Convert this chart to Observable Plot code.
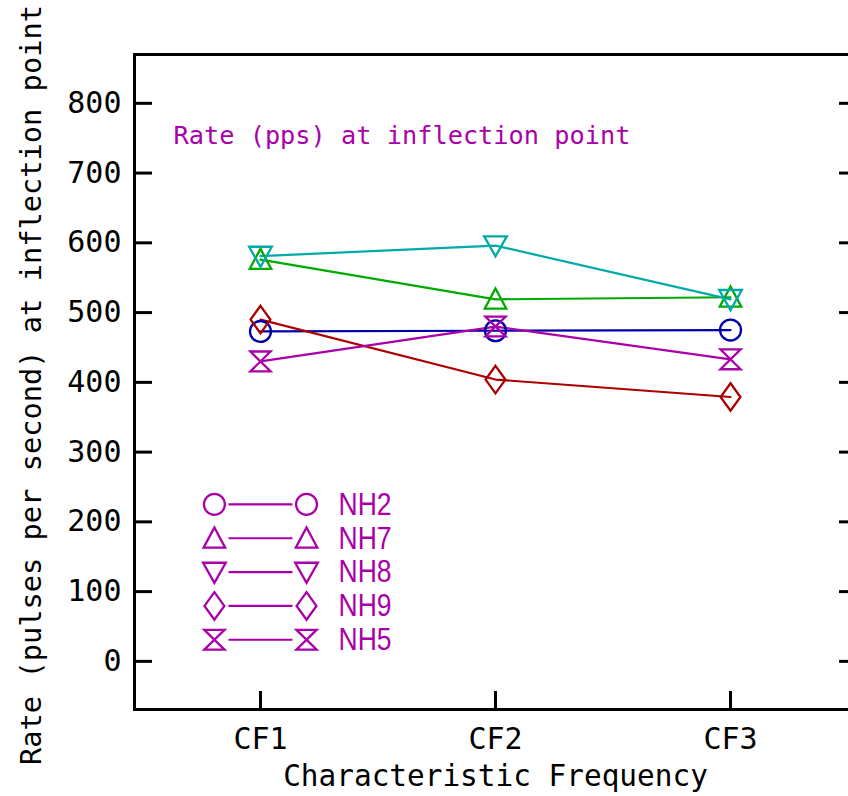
<!DOCTYPE html>
<html>
<head>
<meta charset="utf-8">
<script src="https://cdn.jsdelivr.net/npm/d3@7"></script>
<script src="https://cdn.jsdelivr.net/npm/@observablehq/plot@0.6"></script>
<style>
  html, body { margin: 0; padding: 0; background: #fff; }
  #wrap { width: 848px; height: 796px; overflow: hidden; }
  #wrap svg { max-width: none !important; }
</style>
</head>
<body>
<div id="wrap"></div>
<script>
// ---- data ----
const categories = ["CF1", "CF2", "CF3"];
const seriesNames = ["NH2", "NH7", "NH8", "NH9", "NH5"];
const seriesColors = ["#0000aa", "#00aa00", "#00aaaa", "#aa0000", "#aa00aa"];
const nh2 = [473, 474, 475];
const nh7 = [576, 519, 522];
const nh8 = [581, 596, 519];
const nh9 = [490, 404, 379];
const nh5 = [430, 480, 433];
const yTicks = [0, 100, 200, 300, 400, 500, 600, 700, 800];
const yLabel = "Rate (pulses per second) at inflection point";
const xLabel = "Characteristic Frequency";
const annotation = "Rate (pps) at inflection point";
const legendColor = "#aa00aa";

// ---- build table ----
const seriesValues = [nh2, nh7, nh8, nh9, nh5];
const data = [];
seriesNames.forEach((name, s) => {
  seriesValues[s].forEach((v, i) => data.push({series: name, x: i + 1, y: v}));
});

// legend rows (layout in data units, inside the frame)
const legend = seriesNames.map((name, i) => ({series: name, y: 225 - i * 48.5}));
const legendX = {sym1: 0.804, lineStart: 0.864, lineEnd: 1.136, sym2: 1.196, text: 1.332};
const annotationPos = {x: 0.63, y: 753};

// ---- custom symbols ----
function poly(pts) {
  return {
    draw(ctx, size) {
      const r = Math.sqrt(size / Math.PI);
      ctx.moveTo(pts[0][0] * r, pts[0][1] * r);
      for (let k = 1; k < pts.length; k++) ctx.lineTo(pts[k][0] * r, pts[k][1] * r);
      ctx.closePath();
    }
  };
}
const symCircle = {
  draw(ctx, size) {
    const r = Math.sqrt(size / Math.PI) * 0.95;
    ctx.moveTo(r, 0);
    ctx.arc(0, 0, r, 0, 2 * Math.PI);
    ctx.closePath();
  }
};
const symUp = poly([[0, -0.98], [0.98, 0.85], [-0.98, 0.85]]);
const symDown = poly([[-1.03, -0.85], [1.03, -0.85], [0, 0.98]]);
const symDiamond = poly([[0, -1.25], [0.9, 0], [0, 1.25], [-0.9, 0]]);
const symHourglass = poly([[-0.92, -0.9], [0.92, -0.9], [-0.92, 0.9], [0.92, 0.9]]);

const chart = Plot.plot({
  width: 856,
  height: 796,
  marginLeft: 134,
  marginRight: 0,
  marginTop: 54,
  marginBottom: 87,
  style: {fontFamily: "'DejaVu Sans Mono', monospace", fontSize: "30px", color: "black", background: "white", maxWidth: "none"},
  x: {domain: [0.464, 3.536]},
  y: {domain: [-69, 870]},
  color: {domain: seriesNames, range: seriesColors},
  symbol: {domain: seriesNames, range: [symCircle, symUp, symDown, symDiamond, symHourglass]},
  marks: [
    Plot.frame({stroke: "black", strokeWidth: 3}),
    Plot.axisY({ticks: yTicks, tickSize: -18, tickPadding: 31, strokeWidth: 3, label: null, fontSize: 30}),
    Plot.axisY({anchor: "right", ticks: yTicks, tickSize: -18, strokeWidth: 3, tickFormat: () => "", label: null}),
    Plot.axisX({ticks: [1, 2, 3], tickSize: -18, tickPadding: 36, strokeWidth: 3, tickFormat: d => categories[d - 1], label: null, fontSize: 30}),
    Plot.text([yLabel], {frameAnchor: "left", dx: -103, dy: 3, rotate: -90, textAnchor: "middle", lineAnchor: "middle", fontSize: 28.7, fill: "black"}),
    Plot.text([xLabel], {frameAnchor: "bottom", dy: 67, textAnchor: "middle", lineAnchor: "middle", fontSize: 29.4, fill: "black"}),
    Plot.text([annotation], {x: () => annotationPos.x, y: () => annotationPos.y, textAnchor: "start", lineAnchor: "middle", fontSize: 25.3, fill: legendColor}),
    Plot.line(data, {x: "x", y: "y", z: "series", stroke: "series", strokeWidth: 2.2}),
    Plot.dot(data, {x: "x", y: "y", symbol: "series", stroke: "series", fill: "none", r: 11, strokeWidth: 2.3}),
    // legend
    Plot.link(legend, {x1: () => legendX.lineStart, x2: () => legendX.lineEnd, y1: "y", y2: "y", stroke: legendColor, strokeWidth: 2.2}),
    Plot.dot(legend, {x: () => legendX.sym1, y: "y", symbol: "series", stroke: legendColor, fill: "none", r: 11, strokeWidth: 2.3}),
    Plot.dot(legend, {x: () => legendX.sym2, y: "y", symbol: "series", stroke: legendColor, fill: "none", r: 11, strokeWidth: 2.3}),
    Plot.text(legend, {x: () => legendX.text, y: "y", text: "series", textAnchor: "start", lineAnchor: "middle", fontSize: 32, fontFamily: "'Liberation Sans', Arial, sans-serif", fill: legendColor})
  ]
});
// condense the legend labels to the reference's narrow lettering
d3.select(chart).selectAll("text")
  .filter(function() { return seriesNames.includes(this.textContent); })
  .attr("textLength", 53)
  .attr("lengthAdjust", "spacingAndGlyphs");
document.getElementById("wrap").appendChild(chart);
</script>
</body>
</html>
